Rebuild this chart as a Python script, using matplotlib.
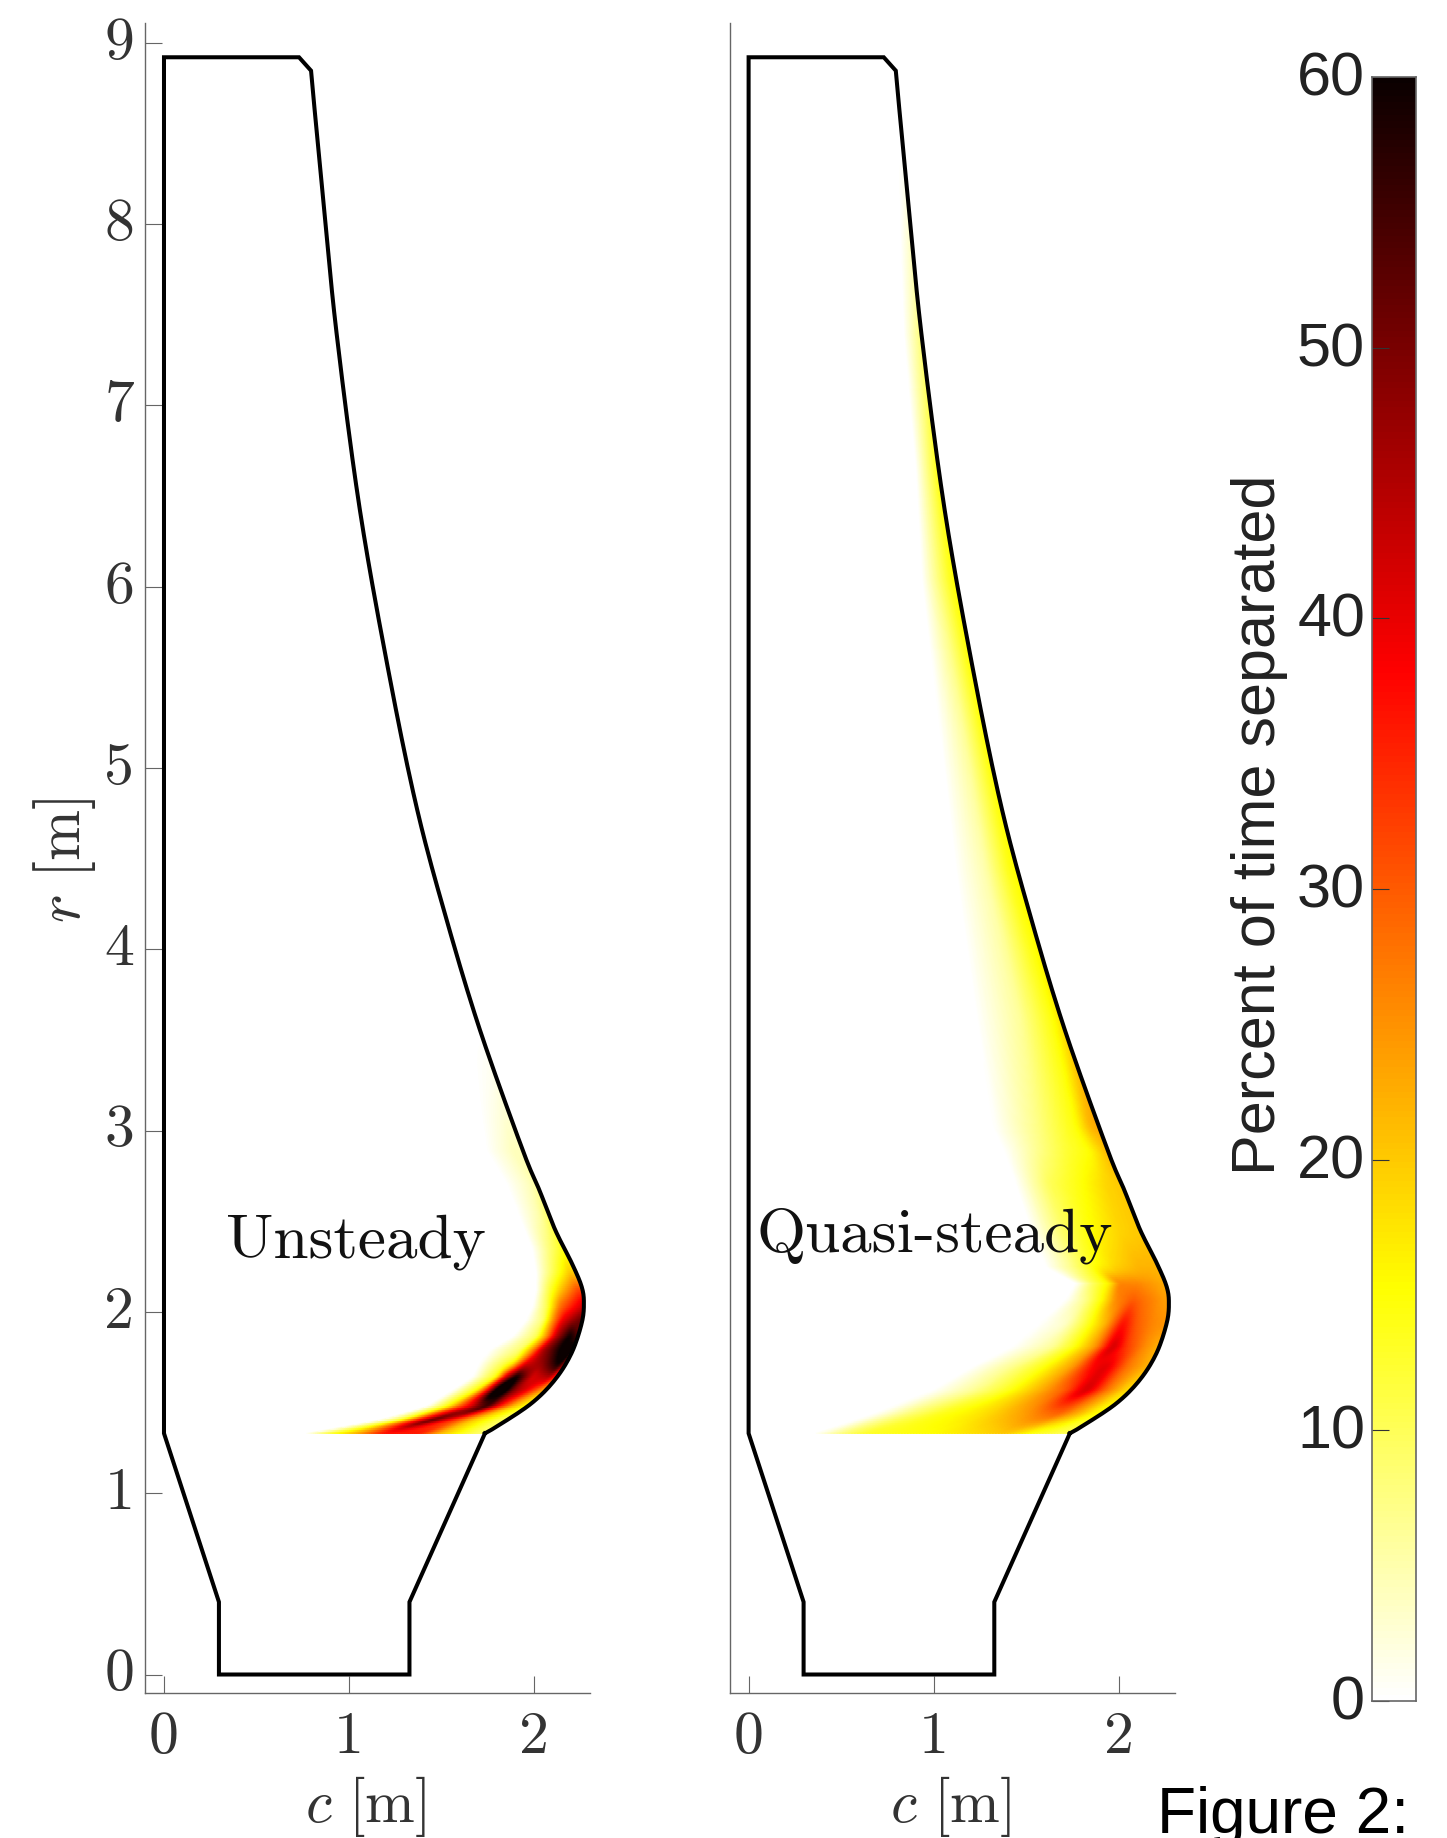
import numpy as np
import matplotlib
matplotlib.use("Agg")
import matplotlib.pyplot as plt
from matplotlib.patches import Polygon
from matplotlib.transforms import ScaledTranslation

W, H = 1447, 1838
plt.rcParams['mathtext.fontset'] = 'cm'
plt.rcParams['axes.unicode_minus'] = False

# straight part of the blade outline (root, leading edge, tip)
outline_head_c = [1.735, 1.327, 1.327, 0.297, 0.297, 0, 0, 0.73, 0.795]
outline_head_r = [1.33, 0.40, 0, 0, 0.40, 1.33, 8.92, 8.92, 8.846]
# curved trailing edge, from tip to root
edge_c = [0.806, 0.861, 0.933, 1.059, 1.22, 1.369, 1.528, 1.708, 1.939, 2.03, 2.115, 2.205, 2.258, 2.270,
          2.258, 2.203, 2.113, 1.987, 1.812, 1.735]
edge_r = [8.72, 8.133, 7.398, 6.423, 5.5, 4.769, 4.162, 3.555, 2.893, 2.67, 2.452, 2.268, 2.139, 2.047,
          1.937, 1.772, 1.625, 1.496, 1.376, 1.33]

unsteady_rows = [
    (1.330, [0.771, 0.915, 1.041, 1.203, 1.384, 1.492, 1.636, 1.726], [0, 13, 20, 35, 37, 22, 12, 8]),
    (1.404, [1.167, 1.276, 1.366, 1.456, 1.546, 1.672, 1.816], [0, 12, 35, 56, 35, 20, 10]),
    (1.478, [1.420, 1.528, 1.600, 1.672, 1.744, 1.816, 1.888, 1.978], [0, 15, 30, 40, 58, 35, 20, 12]),
    (1.569, [1.564, 1.690, 1.744, 1.816, 1.888, 1.960, 2.032, 2.077], [0, 15, 35, 75, 50, 40, 25, 20]),
    (1.643, [1.672, 1.798, 1.852, 1.906, 1.996, 2.086, 2.131], [0, 15, 45, 62, 40, 45, 30]),
    (1.717, [1.708, 1.888, 1.960, 2.050, 2.140, 2.185], [0, 15, 40, 48, 62, 40]),
    (1.790, [1.762, 1.924, 1.996, 2.050, 2.140, 2.194, 2.231], [0, 8, 25, 45, 60, 70, 40]),
    (1.864, [1.888, 2.014, 2.068, 2.122, 2.194, 2.258], [0, 10, 25, 45, 62, 48]),
    (1.955, [1.960, 2.050, 2.104, 2.158, 2.249], [0, 8, 25, 40, 52]),
    (2.029, [1.996, 2.068, 2.140, 2.258], [0, 10, 28, 42]),
    (2.121, [2.014, 2.086, 2.158, 2.239], [0, 12, 22, 32]),
    (2.213, [2.014, 2.104, 2.194], [0, 10, 20]),
    (2.342, [1.996, 2.086, 2.158], [0, 8, 14]),
    (2.525, [1.924, 2.032, 2.077], [0, 5, 9]),
    (2.709, [1.852, 1.978, 2.023], [0, 4, 6]),
    (2.893, [1.744, 1.888, 1.939], [0, 4, 4]),
    (3.242, [1.690, 1.770, 1.816], [0, 1, 2]),
    (3.560, [1.640, 1.700, 1.720], [0, 0, 0]),
]

quasi_rows = [
    (1.330, [0.364, 0.508, 0.634, 0.995, 1.247, 1.391, 1.535, 1.697], [0, 8, 13, 15, 18, 20, 13, 10]),
    (1.441, [0.688, 0.869, 1.049, 1.283, 1.499, 1.679, 1.788, 1.869], [0, 8, 14, 18, 24, 30, 22, 15]),
    (1.569, [0.995, 1.211, 1.391, 1.571, 1.715, 1.824, 1.932, 2.040], [0, 6, 13, 22, 30, 44, 28, 18]),
    (1.698, [1.211, 1.427, 1.607, 1.751, 1.860, 1.932, 2.040, 2.148], [0, 7, 15, 24, 38, 42, 28, 22]),
    (1.808, [1.427, 1.643, 1.770, 1.878, 1.968, 2.040, 2.148, 2.211], [0, 6, 15, 25, 44, 33, 25, 22]),
    (1.937, [1.571, 1.715, 1.823, 1.932, 2.022, 2.094, 2.184, 2.247], [0, 3, 12, 22, 38, 30, 26, 25]),
    (2.066, [1.715, 1.823, 1.914, 1.986, 2.076, 2.166, 2.247], [0, 7, 16, 26, 30, 27, 24]),
    (2.158, [1.770, 1.860, 1.950, 2.004, 2.112, 2.229], [0, 10, 17, 27, 26, 23]),
    (2.250, [1.607, 1.733, 1.860, 1.986, 2.112, 2.193], [0, 6, 14, 19, 22, 22]),
    (2.433, [1.535, 1.679, 1.842, 2.004, 2.094], [0, 8, 15, 19, 20]),
    (2.709, [1.445, 1.625, 1.806, 1.932, 2.004], [0, 10, 15, 19, 20]),
    (2.893, [1.380, 1.571, 1.715, 1.840, 1.941], [0, 7, 12, 15, 22]),
    (3.030, [1.319, 1.554, 1.770, 1.842, 1.914], [0, 7, 15, 22, 24]),
    (3.631, [1.229, 1.464, 1.644, 1.716, 1.755], [0, 6, 15, 20, 24]),
    (4.433, [1.121, 1.283, 1.409, 1.464, 1.496], [0, 5, 14, 16, 20]),
    (5.236, [1.031, 1.157, 1.265, 1.323], [0, 6, 15, 17]),
    (6.040, [0.940, 1.085, 1.125], [0, 13, 16]),
    (6.663, [0.905, 1.022, 1.050], [0, 14, 15]),
    (7.398, [0.841, 0.932, 0.950], [0, 8, 9]),
    (8.133, [0.815, 0.861], [0, 2]),
    (8.400, [0.800, 0.830], [0, 0]),
]

x_ticks = [0, 1, 2]
y_ticks = [0, 1, 2, 3, 4, 5, 6, 7, 8, 9]
cbar_ticks = [0, 10, 20, 30, 40, 50, 60]

SERIF = 'cmr10'
SANS = 'Liberation Sans'
GREY = '#666666'
TXT = '#333333'


def catmull(c, r, n=14):
    p = np.column_stack([c, r])
    p = np.vstack([2 * p[0] - p[1], p, 2 * p[-1] - p[-2]])
    out = []
    t = np.linspace(0, 1, n, endpoint=False)[:, None]
    for i in range(1, len(p) - 2):
        a, b, d, e = p[i - 1], p[i], p[i + 1], p[i + 2]
        out.append(0.5 * (2 * b + (d - a) * t + (2 * a - 5 * b + 4 * d - e) * t ** 2
                          + (3 * b - a - 3 * d + e) * t ** 3))
    out.append(p[-2][None, :])
    return np.vstack(out)


outline = np.vstack([np.column_stack([outline_head_c, outline_head_r]), catmull(edge_c, edge_r)])


def add_axes(l, r, b, t):
    return fig.add_axes([l / W, 1 - b / H, (r - l) / W, (b - t) / H])


def blur(a, axis, half):
    k = np.hanning(2 * half + 3)[1:-1]
    k = k / k.sum()
    pad = [(0, 0), (0, 0)]
    pad[axis] = (half, half)
    b = np.pad(a, pad, mode='edge')
    return np.apply_along_axis(lambda m: np.convolve(m, k, mode='valid'), axis, b)


def field(ax, rows, blur_r, blur_s):
    # Structured mesh: every read row is a rib from the band's inner limit to past the edge.
    s = np.linspace(0, 1, 90)
    rr = np.array([row[0] for row in rows])
    cm = []
    vm = []
    for r0, cs, vals in rows:
        cs2 = np.array(list(cs) + [cs[-1] + 0.08])
        vs2 = np.array(list(vals) + [vals[-1]], dtype=float)
        cc = cs2[0] + s * (cs2[-1] - cs2[0])
        cm.append(cc)
        vm.append(np.interp(cc, cs2, vs2))
    cm = np.array(cm)
    vm = np.array(vm)
    rf = np.arange(rr[0], rr[-1] + 1e-9, 0.012)
    C = np.column_stack([np.interp(rf, rr, cm[:, j]) for j in range(len(s))])
    V = np.column_stack([np.interp(rf, rr, vm[:, j]) for j in range(len(s))])
    R = np.repeat(rf[:, None], len(s), axis=1)
    V = blur(blur(V, 0, blur_r), 1, blur_s)
    art = ax.pcolormesh(C, R, V, shading='gouraud', cmap='hot_r', vmin=0, vmax=60, zorder=1)
    art.set_clip_path(Polygon(outline, closed=True, transform=ax.transData))


def panel(ax, rows, show_y, blur_r, blur_s):
    field(ax, rows, blur_r, blur_s)
    ax.plot(np.r_[outline[:, 0], outline[0, 0]], np.r_[outline[:, 1], outline[0, 1]], color='black', lw=2.9,
            solid_joinstyle='miter', zorder=3)
    ax.spines['top'].set_visible(False)
    ax.spines['right'].set_visible(False)
    for sp in ('left', 'bottom'):
        ax.spines[sp].set_color(GREY)
        ax.spines[sp].set_linewidth(1.0)
    ax.set_xticks(x_ticks)
    ax.set_xticklabels([str(t) for t in x_ticks], family=SERIF, fontsize=43, color=TXT)
    ax.tick_params(axis='x', direction='in', length=12, width=0.8, color=GREY, pad=13)
    if show_y:
        ax.set_yticks(y_ticks)
        ax.set_yticklabels([str(t) for t in y_ticks], family=SERIF, fontsize=43, color=TXT)
        ax.tick_params(axis='y', direction='in', length=12, width=0.8, color=GREY, pad=8)
        up = ScaledTranslation(0, 5 / 100, fig.dpi_scale_trans)
        for lab in ax.get_yticklabels():
            lab.set_transform(lab.get_transform() + up)
    else:
        ax.set_yticks([])
    ax.set_xlim(-0.1005, 2.303)
    ax.set_ylim(-0.102, 9.109)


fig = plt.figure(figsize=(W / 100, H / 100), dpi=100, facecolor='white')

ax1 = add_axes(145.4, 590, 1693, 23)
panel(ax1, unsteady_rows, True, 3, 3)
ax2 = add_axes(730, 1175, 1693, 23)
panel(ax2, quasi_rows, False, 3, 3)

fig.text(226 / W, 1 - 1257 / H, 'Unsteady', family=SERIF, fontsize=45.5, color='#111111', va='baseline')
fig.text(756 / W, 1 - 1252 / H, 'Quasi-steady', family=SERIF, fontsize=45.5, color='#111111', va='baseline')

fig.text(366 / W, 1 - 1822 / H, r'$c\ [\mathrm{m}]$', fontsize=43, color=TXT, ha='center', va='baseline')
fig.text(951 / W, 1 - 1822 / H, r'$c\ [\mathrm{m}]$', fontsize=43, color=TXT, ha='center', va='baseline')
fig.text(64 / W, 1 - 860 / H, r'$r\ [\mathrm{m}]$', fontsize=44, color=TXT, rotation=90, ha='center', va='center')

cax = add_axes(1372, 1416, 1701, 77)
grad = np.linspace(0, 60, 256).reshape(-1, 1)
cax.imshow(grad, origin='lower', aspect='auto', cmap='hot_r', vmin=0, vmax=60, extent=[0, 1, 0, 60])
cax.set_xticks([])
cax.set_yticks(cbar_ticks)
cax.set_yticklabels([str(t) for t in cbar_ticks], family=SANS, fontsize=44, color='#222222')
cax.tick_params(axis='y', direction='in', length=12, width=0.8, color='#333333', pad=5)
up2 = ScaledTranslation(0, 3.5 / 100, fig.dpi_scale_trans)
for lab in cax.get_yticklabels():
    lab.set_transform(lab.get_transform() + up2)
for sp in cax.spines.values():
    sp.set_color(GREY)
    sp.set_linewidth(1.2)

fig.text(1260 / W, 1 - 825 / H, 'Percent of time separated', family=SANS, fontsize=44, color='#222222',
         rotation=90, ha='center', va='center')
fig.text(1157 / W, 1 - 1833 / H, 'Figure 2:', family=SANS, fontsize=46, color='black', va='baseline')

fig.savefig('out.png', dpi=100, facecolor='white')
